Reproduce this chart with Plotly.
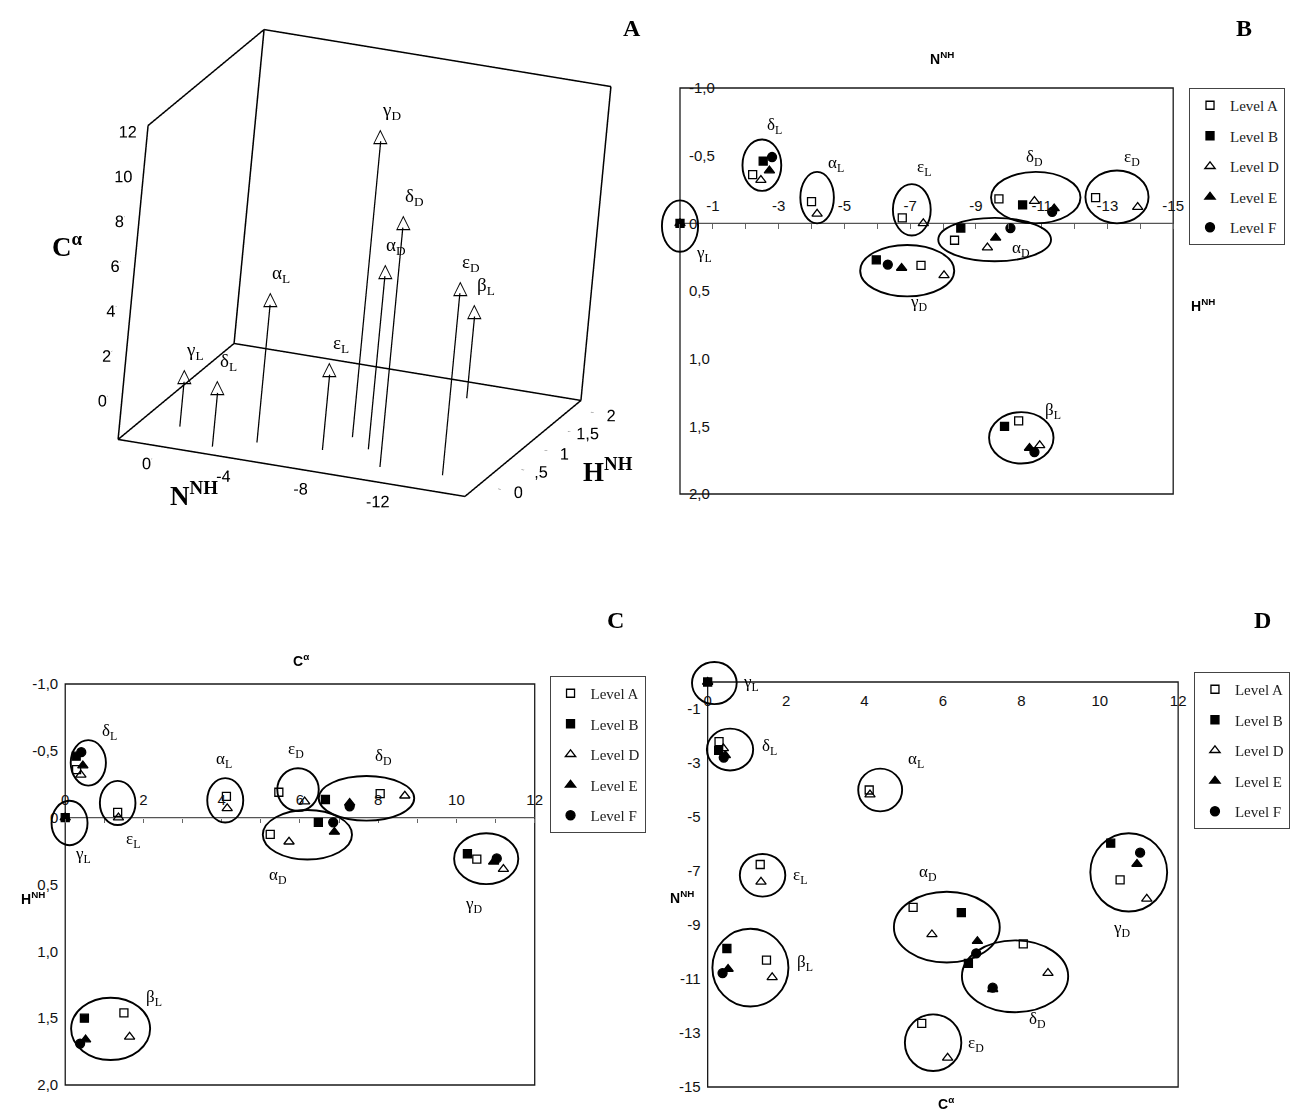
import numpy as np
import plotly.graph_objects as go

W, H = 1290, 1110

# ---------------- data ----------------
conformers = ["γL", "δL", "αL", "εL", "αD", "δD", "εD", "γD", "βL"]
levels = ["Level A", "Level B", "Level D", "Level E", "Level F"]

# N^NH, H^NH, C-alpha values per level (None = not shown)
N_A = [None, -2.21, -4.00, -6.76, -8.35, -9.70, -12.64, -7.33, -10.30]
H_A = [None, -0.36, -0.16, -0.04, 0.125, -0.18, -0.19, 0.31, 1.46]
C_A = [None, 0.29, 4.12, 1.34, 5.24, 8.05, 5.46, 10.52, 1.50]

N_B = [0.0, -2.53, None, None, -8.54, -10.42, None, -5.97, -9.87]
H_B = [0.0, -0.46, None, None, 0.035, -0.136, None, 0.27, 1.50]
C_B = [0.0, 0.28, None, None, 6.47, 6.65, None, 10.28, 0.49]

N_D = [0.0, -2.46, -4.17, -7.40, -9.35, -10.78, -13.92, -8.03, -10.94]
H_D = [0.0, -0.32, -0.07, 0.00, 0.18, -0.164, -0.12, 0.385, 1.64]
C_D = [0.0, 0.40, 4.14, 1.36, 5.72, 8.68, 6.12, 11.20, 1.645]

N_E = [None, -2.72, None, None, -9.60, -11.38, None, -6.74, -10.63]
H_E = [None, -0.39, None, None, 0.107, -0.11, None, 0.33, 1.66]
C_E = [None, 0.45, None, None, 6.88, 7.27, None, 10.95, 0.52]

N_F = [None, -2.80, None, None, -10.05, -11.32, None, -6.32, -10.78]
H_F = [None, -0.49, None, None, 0.035, -0.085, None, 0.305, 1.69]
C_F = [None, 0.41, None, None, 6.85, 7.27, None, 11.03, 0.38]

# cluster ellipses (centre, radii) and label positions, per panel
ellB_cx = [0.0, -2.49, -4.17, -7.05, -9.57, -10.82, -13.29, -6.91, -10.38]
ellB_cy = [0.02, -0.43, -0.19, -0.10, 0.12, -0.19, -0.195, 0.35, 1.585]
ellB_rx = [0.55, 0.59, 0.51, 0.575, 1.715, 1.36, 0.96, 1.43, 0.98]
ellB_ry = [0.19, 0.19, 0.19, 0.19, 0.16, 0.19, 0.195, 0.19, 0.19]
labB_x = [-0.73, -2.88, -4.73, -7.43, -10.38, -10.78, -13.76, -7.26, -11.33]
labB_y = [0.23, -0.72, -0.44, -0.41, 0.19, -0.48, -0.48, 0.585, 1.39]

ellC_cx = [0.11, 0.59, 4.09, 1.34, 6.19, 7.70, 5.95, 10.76, 1.16]
ellC_cy = [0.04, -0.41, -0.13, -0.11, 0.128, -0.145, -0.21, 0.307, 1.58]
ellC_rx = [0.46, 0.45, 0.46, 0.455, 1.14, 1.22, 0.53, 0.82, 1.01]
ellC_ry = [0.166, 0.17, 0.166, 0.165, 0.185, 0.167, 0.16, 0.19, 0.233]
labC_x = [0.46, 1.14, 4.05, 1.73, 5.43, 8.13, 5.89, 10.45, 2.28]
labC_y = [0.28, -0.64, -0.43, 0.167, 0.44, -0.455, -0.51, 0.653, 1.35]

ellD_cx = [0.17, 0.57, 4.40, 1.40, 6.10, 7.84, 5.75, 10.74, 1.09]
ellD_cy = [-0.04, -2.50, -4.00, -7.16, -9.08, -10.90, -13.36, -7.05, -10.58]
ellD_rx = [0.57, 0.59, 0.56, 0.58, 1.35, 1.355, 0.72, 0.98, 0.97]
ellD_ry = [0.78, 0.775, 0.79, 0.79, 1.31, 1.33, 1.05, 1.45, 1.44]
labD_x = [1.10, 1.57, 5.32, 2.36, 5.63, 8.41, 6.84, 10.57, 2.49]
labD_y = [-0.05, -2.40, -2.90, -7.20, -7.06, -12.50, -13.40, -9.16, -10.40]

# tick labels
B_xticks = [-1, -3, -5, -7, -9, -11, -13, -15]
B_xtext = ["-1", "-3", "-5", "-7", "-9", "-11", "-13", "-15"]
H_ticks = [-1, -0.5, 0, 0.5, 1, 1.5, 2]
H_text = ["-1,0", "-0,5", "0", "0,5", "1,0", "1,5", "2,0"]
C_ticks = [0, 2, 4, 6, 8, 10, 12]
C_text = ["0", "2", "4", "6", "8", "10", "12"]
D_yticks = [-1, -3, -5, -7, -9, -11, -13, -15]
D_ytext = ["-1", "-3", "-5", "-7", "-9", "-11", "-13", "-15"]
A_Nticks = [0, -4, -8, -12]
A_Ntext = ["0", "-4", "-8", "-12"]
A_Hticks = [0, 0.5, 1, 1.5, 2]
A_Htext = ["0", ",5", "1", "1,5", "2"]
A_Cticks = [0, 2, 4, 6, 8, 10, 12]

# ---------------- helpers ----------------
def greek(name):
    return f"{name[0]}<sub>{name[1]}</sub>"

def frame_axes(l, t, r, b, x0, x1, y0, y1, pads=(30, 30, 30, 30)):
    pl, pt, pr, pb = pads
    sx = (r - l) / (x1 - x0)
    sy = (b - t) / (y1 - y0)
    xr = [x0 - pl / sx, x1 + pr / sx]
    yr = [y1 + pb / sy, y0 - pt / sy]
    xdom = [(l - pl) / W, (r + pr) / W]
    ydom = [1 - (b + pb) / H, 1 - (t - pt) / H]
    fx = lambda v: l + (v - x0) * sx
    fy = lambda v: t + (v - y0) * sy
    return xr, yr, xdom, ydom, fx, fy

TICKFONT = dict(family="Liberation Sans", size=15, color="#111")
SERIF = "Liberation Serif"

fig = go.Figure()

styles = {
    "Level A": dict(symbol="square-open", size=8),
    "Level B": dict(symbol="square", size=8),
    "Level D": dict(symbol="triangle-up-open", size=9),
    "Level E": dict(symbol="triangle-up", size=9),
    "Level F": dict(symbol="circle", size=9),
}
rank = {lv: i + 1 for i, lv in enumerate(levels)}
vals = {
    "Level A": (N_A, H_A, C_A),
    "Level B": (N_B, H_B, C_B),
    "Level D": (N_D, H_D, C_D),
    "Level E": (N_E, H_E, C_E),
    "Level F": (N_F, H_F, C_F),
}
draw_order = ["Level A", "Level D", "Level E", "Level F", "Level B"]

# panel frames (pixels) -> axes
pB = frame_axes(688, 88, 1187, 494, 0, -15, -1, 2)
pC = frame_axes(66, 684, 541, 1085, 0, 12, -1, 2, pads=(30, 30, 30, 22))
pD = frame_axes(716, 682, 1192, 1087, 0, 12, 0, -15, pads=(30, 30, 30, 21))

panels = [
    ("", pB, 0, 1, "legend"),
    ("2", pC, 2, 1, "legend2"),
    ("3", pD, 2, 0, "legend3"),
]

for suf, p, xi, yi, leg in panels:
    for lv in draw_order:
        arr = vals[lv]
        st = styles[lv]
        fig.add_trace(go.Scatter(
            x=arr[xi], y=arr[yi], mode="markers", name=lv,
            xaxis="x" + suf, yaxis="y" + suf, legend=leg,
            legendrank=rank[lv], legendgroup=lv + suf,
            marker=dict(symbol=st["symbol"], size=st["size"], color="black",
                        line=dict(color="black", width=1.3)),
            hoverinfo="skip",
        ))

shapes = []
annotations = []

def add_frame(suf, x0, x1, y0, y1, zero_line=None):
    shapes.append(dict(type="rect", xref="x" + suf, yref="y" + suf,
                       x0=x0, x1=x1, y0=y0, y1=y1,
                       line=dict(color="#1a1a1a", width=1.3), layer="below"))
    if zero_line is not None:
        shapes.append(dict(type="line", xref="x" + suf, yref="y" + suf,
                           x0=x0, x1=x1, y0=zero_line, y1=zero_line,
                           line=dict(color="#555", width=1.1), layer="below"))

def add_ellipses(suf, cx, cy, rx, ry, lx, ly):
    for i in range(len(cx)):
        shapes.append(dict(type="circle", xref="x" + suf, yref="y" + suf,
                           x0=cx[i] - rx[i], x1=cx[i] + rx[i],
                           y0=cy[i] - ry[i], y1=cy[i] + ry[i],
                           line=dict(color="black", width=1.9)))
        annotations.append(dict(x=lx[i], y=ly[i], xref="x" + suf, yref="y" + suf,
                                text=greek(conformers[i]), showarrow=False,
                                xanchor="center", yanchor="middle",
                                font=dict(family=SERIF, size=17, color="black")))

add_frame("", 0, -15, -1, 2, zero_line=0)
add_frame("2", 0, 12, -1, 2, zero_line=0)
add_frame("3", 0, 12, -15, 0)
add_ellipses("", ellB_cx, ellB_cy, ellB_rx, ellB_ry, labB_x, labB_y)
add_ellipses("2", ellC_cx, ellC_cy, ellC_rx, ellC_ry, labC_x, labC_y)
add_ellipses("3", ellD_cx, ellD_cy, ellD_rx, ellD_ry, labD_x, labD_y)

common = dict(showgrid=False, zeroline=False, showline=False, tickfont=TICKFONT)

xrB, yrB, xdB, ydB, fxB, fyB = pB
xrC, yrC, xdC, ydC, fxC, fyC = pC
xrD, yrD, xdD, ydD, fxD, fyD = pD

layout = dict(
    width=W, height=H, autosize=False,
    margin=dict(l=0, r=0, t=0, b=0),
    paper_bgcolor="white", plot_bgcolor="white",
    font=dict(family="Liberation Sans", color="black"),
    hovermode=False,
    xaxis=dict(range=xrB, domain=xdB, anchor="free", position=1 - fyB(0) / H,
               side="top", tickvals=B_xticks, ticktext=B_xtext,
               ticks="inside", ticklen=5, tickcolor="#666", ticklabelstandoff=9,
               minor=dict(tickvals=list(range(0, -16, -1)), ticks="inside",
                          ticklen=5, tickcolor="#666"), **common),
    yaxis=dict(range=yrB, domain=ydB, anchor="free", position=fxB(0) / W,
               side="right", tickvals=H_ticks, ticktext=H_text, ticks="",
               ticklabelstandoff=8, **common),
    xaxis2=dict(range=xrC, domain=xdC, anchor="free", position=1 - fyC(0) / H,
                side="top", tickvals=C_ticks, ticktext=C_text,
                ticks="inside", ticklen=4, tickcolor="#666", ticklabelstandoff=10,
                minor=dict(tickvals=list(range(0, 13)), ticks="inside",
                           ticklen=4, tickcolor="#666"), **common),
    yaxis2=dict(range=yrC, domain=ydC, anchor="free", position=fxC(0) / W,
                side="left", tickvals=H_ticks, ticktext=H_text, ticks="",
                ticklabelstandoff=7, **common),
    xaxis3=dict(range=xrD, domain=xdD, anchor="free", position=1 - fyD(0) / H,
                side="bottom", tickvals=C_ticks, ticktext=C_text, ticks="",
                ticklabelstandoff=8, **common),
    yaxis3=dict(range=yrD, domain=ydD, anchor="free", position=fxD(0) / W,
                side="left", tickvals=D_yticks, ticktext=D_ytext, ticks="",
                ticklabelstandoff=7, **common),
)

legend_common = dict(font=dict(family=SERIF, size=15, color="#222"),
                     bordercolor="#444", borderwidth=1, bgcolor="white",
                     tracegroupgap=8, itemwidth=30, xanchor="left", yanchor="top",
                     traceorder="grouped")
layout["legend"] = dict(x=1203 / W, y=1 - 88 / H, **legend_common)
layout["legend2"] = dict(x=556 / W, y=1 - 676 / H, **legend_common)
layout["legend3"] = dict(x=1208 / W, y=1 - 672 / H, **legend_common)

# ---------------- panel A (3-D) ----------------
Nr = (2, -16)
Hr = (-0.5, 2)
Cr = (-2, 12)
x0, x1 = Nr
y0, y1 = Hr
z0, z1 = Cr
edges = [
    ((x0, y0, z0), (x1, y0, z0)), ((x1, y0, z0), (x1, y1, z0)),
    ((x1, y1, z0), (x0, y1, z0)), ((x0, y1, z0), (x0, y0, z0)),
    ((x0, y0, z0), (x0, y0, z1)), ((x0, y0, z1), (x0, y1, z1)),
    ((x0, y1, z1), (x0, y1, z0)), ((x1, y1, z0), (x1, y1, z1)),
    ((x0, y1, z1), (x1, y1, z1)),
]
ex, ey, ez = [], [], []
for a, b in edges:
    ex += [a[0], b[0], None]
    ey += [a[1], b[1], None]
    ez += [a[2], b[2], None]
fig.add_trace(go.Scatter3d(x=ex, y=ey, z=ez, mode="lines", showlegend=False,
                           line=dict(color="black", width=3), hoverinfo="skip"))

sx_, sy_, sz_ = [], [], []
for i in range(len(conformers)):
    sx_ += [N_D[i], N_D[i], None]
    sy_ += [H_D[i], H_D[i], None]
    sz_ += [z0, C_D[i], None]
fig.add_trace(go.Scatter3d(x=sx_, y=sy_, z=sz_, mode="lines", showlegend=False,
                           line=dict(color="black", width=2.5), hoverinfo="skip"))

scene_ann = []
for i, name in enumerate(conformers):
    scene_ann.append(dict(x=N_D[i], y=H_D[i], z=C_D[i], text="<b>△</b>",
                          showarrow=False, yshift=6,
                          font=dict(family="DejaVu Sans", size=19, color="black")))
    scene_ann.append(dict(x=N_D[i], y=H_D[i], z=C_D[i], text=greek(name),
                          showarrow=False, xshift=11, yshift=30,
                          font=dict(family=SERIF, size=19, color="black")))

ax3 = dict(showbackground=False, showgrid=False, zeroline=False, showline=False,
           showspikes=False, title=dict(text=""), ticks="outside", ticklen=3,
           tickangle=0,
           tickfont=dict(family="Liberation Sans", size=14, color="black"))
eye_dir = np.array([0.2428, -0.9344, 0.2605])
eye = eye_dir * 3.0
scale3 = 1.388
layout["scene"] = dict(
    domain=dict(x=[69 / W, 669 / W], y=[1 - 512.5 / H, 1 - 12.5 / H]),
    xaxis=dict(autorange="reversed", tickvals=A_Nticks, ticktext=A_Ntext, **ax3),
    yaxis=dict(tickvals=A_Hticks, ticktext=A_Htext, **ax3),
    zaxis=dict(tickvals=A_Cticks, **ax3),
    aspectmode="manual",
    aspectratio=dict(x=1.1095 * scale3, y=1.2945 * scale3, z=1.0 * scale3),
    camera=dict(eye=dict(x=eye[0], y=eye[1], z=eye[2]),
                up=dict(x=-0.1573, y=0.2271, z=0.9611),
                center=dict(x=0, y=0, z=0),
                projection=dict(type="orthographic")),
    bgcolor="white",
    annotations=scene_ann,
)

# ---------------- text annotations (titles, letters) ----------------
def paper_text(px, py, text, size, family="Liberation Sans", bold=True):
    annotations.append(dict(x=px / W, y=1 - py / H, xref="paper", yref="paper",
                            xanchor="center", yanchor="middle",
                            text=f"<b>{text}</b>" if bold else text, showarrow=False,
                            font=dict(family=family, size=size, color="black")))

paper_text(639, 28, "A", 24, SERIF)
paper_text(1259, 28, "B", 24, SERIF)
paper_text(623, 620, "C", 24, SERIF)
paper_text(1277, 620, "D", 24, SERIF)

paper_text(68, 245, "C<sup>α</sup>", 27, SERIF)
paper_text(196, 494, "N<sup>NH</sup>", 27, SERIF)
paper_text(615, 470, "H<sup>NH</sup>", 27, SERIF)

paper_text(953, 58, "N<sup>NH</sup>", 14)
paper_text(1217, 305, "H<sup>NH</sup>", 14)
paper_text(305, 660, "C<sup>α</sup>", 14)
paper_text(33, 898, "H<sup>NH</sup>", 14)
paper_text(690, 897, "N<sup>NH</sup>", 14)
paper_text(957, 1103, "C<sup>α</sup>", 14)

layout["shapes"] = shapes
layout["annotations"] = annotations
fig.update_layout(**layout)

fig.write_html("out.html", config={"displayModeBar": False})
